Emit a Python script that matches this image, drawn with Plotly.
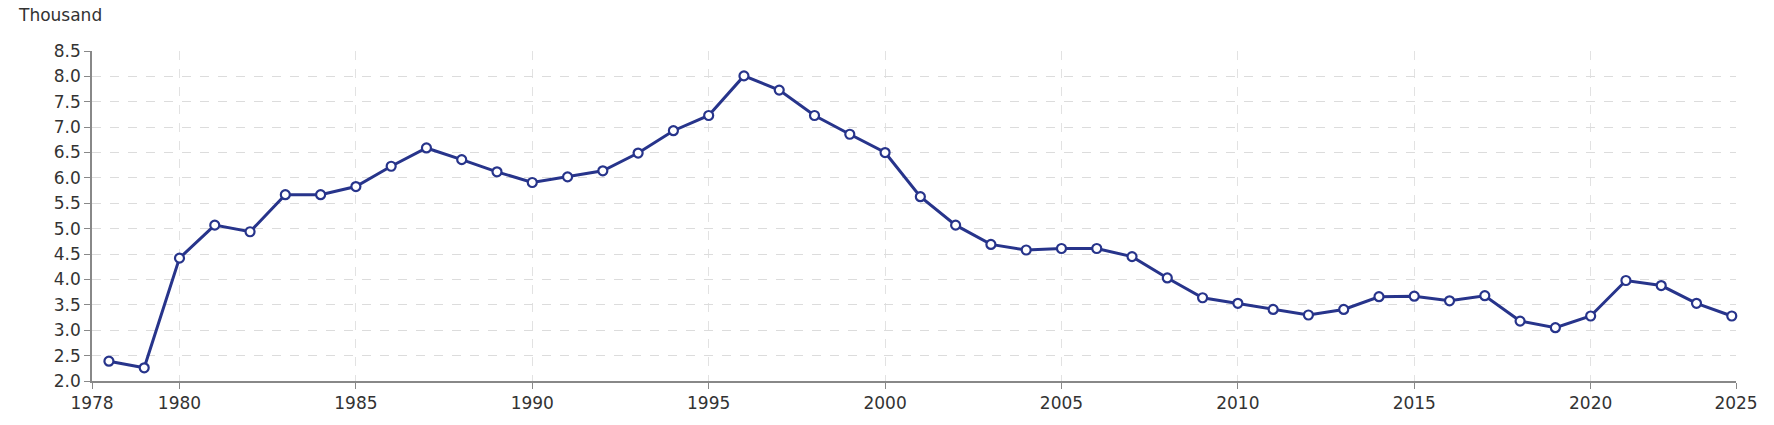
import plotly.graph_objects as go

years = list(range(1978, 2025))
values = [2.39, 2.26, 4.42, 5.07, 4.94, 5.67, 5.67, 5.83, 6.23, 6.59, 6.36, 6.12, 5.91, 6.02,
          6.14, 6.49, 6.93, 7.23, 8.01, 7.73, 7.23, 6.86, 6.50, 5.63, 5.07, 4.69, 4.58, 4.61,
          4.61, 4.45, 4.03, 3.64, 3.53, 3.41, 3.30, 3.41, 3.66, 3.67, 3.58, 3.68, 3.18, 3.05,
          3.28, 3.98, 3.88, 3.53, 3.28]
x_range = [1977.52, 2024.12]
tick_vals = [1977.52, 1980, 1985, 1990, 1995, 2000, 2005, 2010, 2015, 2020, 2024.12]
tick_text = ["1978", "1980", "1985", "1990", "1995", "2000", "2005", "2010", "2015", "2020", "2025"]
y_ticks = [2.0 + 0.5 * i for i in range(14)]

fig = go.Figure(go.Scatter(
    x=years, y=values, mode="lines+markers",
    line=dict(color="#27348b", width=3),
    marker=dict(symbol="circle", size=9, color="white", line=dict(color="#27348b", width=2.2)),
    cliponaxis=False, showlegend=False,
))
fig.update_layout(
    width=1774, height=425, plot_bgcolor="white", paper_bgcolor="white",
    margin=dict(l=84, r=46, t=43, b=52),
    font=dict(family="DejaVu Sans", size=17, color="#333333"),
    annotations=[dict(text="Thousand", xref="paper", yref="paper", x=-0.0465, y=1.0, yshift=24,
                      xanchor="left", yanchor="bottom", showarrow=False,
                      font=dict(size=17, color="#333333"))],
)
fig.update_xaxes(range=x_range, tickvals=tick_vals, ticktext=tick_text,
                 showline=True, linecolor="#888888", linewidth=1.5, ticks="outside",
                 tickcolor="#888888", ticklen=6, showgrid=True, gridcolor="#e2e2e2",
                 griddash="dash", zeroline=False)
fig.update_yaxes(range=[2.0, 8.5], tickvals=y_ticks, tickformat=".1f",
                 showline=True, linecolor="#888888", linewidth=1.5, ticks="outside",
                 tickcolor="#888888", ticklen=6, showgrid=True, gridcolor="#dcdcdc",
                 griddash="dash", zeroline=False)
fig.write_html("out.html")
